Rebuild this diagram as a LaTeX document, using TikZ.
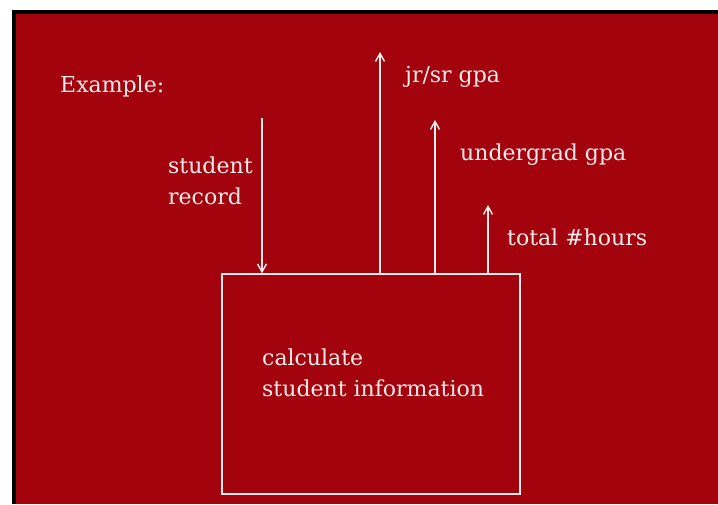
\documentclass[tikz,border=0pt]{standalone}
\usepackage{fontspec}
\setmainfont{DejaVu Serif}
\usetikzlibrary{arrows.meta, positioning}
\definecolor{rojoFondo}{RGB}{163,3,13}
\definecolor{blancoTiza}{RGB}{250,236,236}
\colorlet{colFondo}{rojoFondo}
\colorlet{colTrazo}{blancoTiza}
\tikzset{
  cajaProceso/.style={
    draw=colTrazo, line width=1.4pt,
    minimum width=298pt, minimum height=220pt, inner sep=0pt
  },
  etiqueta/.style={text=colTrazo, font=\fontsize{22}{31}\selectfont,
    align=left, inner sep=0pt, anchor=west},
  flecha/.style={-{Straight Barb[length=8pt, width=9pt]}, line width=1.4pt, colTrazo},
}

\begin{document}
\begin{tikzpicture}[x=1pt, y=-1pt]
    \useasboundingbox (0,0) rectangle (718,504);
    \fill[white] (0,0) rectangle (718,504);
    \fill[black] (12,10) rectangle (718,504);
    \fill[colFondo] (16,14) rectangle (718,504);

    \node[etiqueta] (ejemplo) at (60,86) {Example:};
    \node[cajaProceso] (calc) at (371,384) {};
    \node[etiqueta] (calcTxt) at (262,373) {calculate\\student information};

    \coordinate (entrada) at (262,118);
    \coordinate (salidaA) at (380,52);
    \coordinate (salidaB) at (435,120);
    \coordinate (salidaC) at (488,205);

    \draw[flecha] (entrada) -- (entrada |- calc.north);
    \draw[flecha] (salidaA |- calc.north) -- (salidaA);
    \draw[flecha] (salidaB |- calc.north) -- (salidaB);
    \draw[flecha] (salidaC |- calc.north) -- (salidaC);

    \node[etiqueta] (registro) at (168,181) {student\\record};
    \node[etiqueta] (gpaJrSr) at (405,77) {jr/sr gpa};
    \node[etiqueta] (gpaUnder) at (460,155) {undergrad gpa};
    \node[etiqueta] (horas) at (507,237) {total \#hours};
  \end{tikzpicture}
\end{document}
